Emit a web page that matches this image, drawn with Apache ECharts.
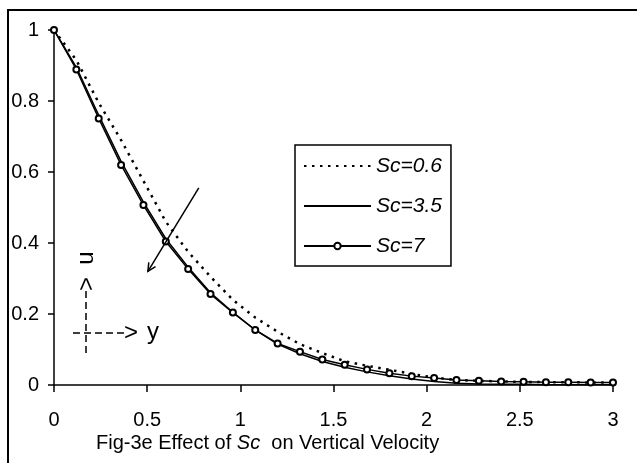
<!DOCTYPE html>
<html>
<head>
<meta charset="utf-8">
<script src="https://cdn.jsdelivr.net/npm/echarts@6/dist/echarts.min.js"></script>
<style>
html,body{margin:0;padding:0;background:#fff;}
#chart{width:637px;height:463px;}
</style>
</head>
<body>
<div id="chart"></div>
<script>
// y positions (x-axis values)
var yPos = [0, 0.12, 0.24, 0.36, 0.48, 0.6, 0.72, 0.84, 0.96, 1.08, 1.2, 1.32, 1.44, 1.56, 1.68, 1.8, 1.92, 2.04, 2.16, 2.28, 2.4, 2.52, 2.64, 2.76, 2.88, 3.0];
var sc06 = [1, 0.915, 0.795, 0.69, 0.575, 0.46, 0.375, 0.305, 0.24, 0.19, 0.15, 0.115, 0.09, 0.067, 0.054, 0.043, 0.031, 0.021, 0.014, 0.012, 0.010, 0.009, 0.008, 0.008, 0.007, 0.007];
var sc35 = [1, 0.895, 0.76, 0.63, 0.515, 0.412, 0.332, 0.26, 0.205, 0.155, 0.115, 0.088, 0.066, 0.05, 0.037, 0.026, 0.017, 0.01, 0.005, 0.003, 0.002, 0.002, 0.001, 0.001, 0.001, 0.001];
var sc7  = [1, 0.889, 0.751, 0.62, 0.507, 0.404, 0.327, 0.256, 0.204, 0.155, 0.117, 0.094, 0.072, 0.057, 0.044, 0.033, 0.025, 0.02, 0.014, 0.012, 0.01, 0.009, 0.008, 0.008, 0.007, 0.007];
var seriesNames = ['Sc=0.6', 'Sc=3.5', 'Sc=7'];
var xTicks = {min: 0, max: 3, interval: 0.5};
var yTicks = {min: 0, max: 1, interval: 0.2};
var caption = 'Fig-3e Effect of ';
var captionIt = 'Sc';
var caption2 = '  on Vertical Velocity';
// annotation arrow (data coordinates)
var arrowFrom = [0.777, 0.555];
var arrowTo = [0.504, 0.32];

function pairs(xs, ys) { return xs.map(function (x, i) { return [x, ys[i]]; }); }

var FONT = "'Liberation Sans', Arial, sans-serif";
var chart = echarts.init(document.getElementById('chart'), null, {renderer: 'canvas'});
var option = {
  animation: false,
  backgroundColor: '#fff',
  grid: {left: 54, right: 24, top: 30, bottom: 78, containLabel: false},
  xAxis: {
    type: 'value', min: xTicks.min, max: xTicks.max, interval: xTicks.interval,
    axisLine: {show: true, onZero: false, lineStyle: {color: '#000', width: 1.5}},
    axisTick: {show: true, inside: false, length: 7, lineStyle: {color: '#000', width: 1.5}},
    axisLabel: {color: '#000', fontSize: 20, fontFamily: FONT, margin: 25},
    splitLine: {show: false}
  },
  yAxis: {
    type: 'value', min: yTicks.min, max: yTicks.max, interval: yTicks.interval,
    axisLine: {show: true, onZero: false, lineStyle: {color: '#000', width: 1.5}},
    axisTick: {show: true, inside: false, length: 6, lineStyle: {color: '#000', width: 1.5}},
    axisLabel: {color: '#000', fontSize: 20, fontFamily: FONT, margin: 15},
    splitLine: {show: false}
  },
  legend: {
    orient: 'vertical', left: 295, top: 145,
    padding: [10, 9, 9, 8],
    borderColor: '#000', borderWidth: 1.5,
    backgroundColor: '#fff',
    itemWidth: 67, itemHeight: 8, itemGap: 18,
    textStyle: {fontSize: 21, fontStyle: 'italic', fontFamily: FONT, color: '#000', lineHeight: 22},
    data: [
      {name: seriesNames[0], itemStyle: {opacity: 0}},
      {name: seriesNames[1], itemStyle: {opacity: 0}},
      {name: seriesNames[2]}
    ]
  },
  series: [
    {name: seriesNames[0], type: 'line', data: pairs(yPos, sc06), symbol: 'none', z: 3,
     lineStyle: {color: '#000', width: 2.5, type: [2.5, 5.5]}, itemStyle: {color: '#000'}},
    {name: seriesNames[1], type: 'line', data: pairs(yPos, sc35), symbol: 'none', z: 4,
     lineStyle: {color: '#000', width: 1.5, type: 'solid'}, itemStyle: {color: '#000'}},
    {name: seriesNames[2], type: 'line', data: pairs(yPos, sc7), symbol: 'emptyCircle', symbolSize: 6, z: 5,
     lineStyle: {color: '#000', width: 1.5}, itemStyle: {color: '#000', borderColor: '#000', borderWidth: 1.5}}
  ]
};
chart.setOption(option);

var p1 = chart.convertToPixel({gridIndex: 0}, arrowFrom);
var p2 = chart.convertToPixel({gridIndex: 0}, arrowTo);
var ang = Math.atan2(p2[1] - p1[1], p2[0] - p1[0]);
var hl = 9, ha = 0.45;
var h1 = [p2[0] - hl * Math.cos(ang - ha), p2[1] - hl * Math.sin(ang - ha)];
var h2 = [p2[0] - hl * Math.cos(ang + ha), p2[1] - hl * Math.sin(ang + ha)];

var cy = 333;

chart.setOption({
  graphic: [
    {type: 'rect', shape: {x: 8, y: 10, width: 700, height: 520}, style: {fill: 'none', stroke: '#000', lineWidth: 2}, silent: true, z: 0},
    {type: 'line', shape: {x1: p1[0], y1: p1[1], x2: p2[0], y2: p2[1]}, style: {stroke: '#000', lineWidth: 1.5}, z: 10},
    {type: 'polyline', shape: {points: [h1, p2, h2]}, style: {stroke: '#000', lineWidth: 1.5, fill: 'none'}, z: 10},
    // horizontal dashed arrow with y
    {type: 'line', shape: {x1: 73, y1: cy, x2: 126, y2: cy}, style: {stroke: '#000', lineWidth: 1.5, lineDash: [7, 4]}, z: 10},
    {type: 'text', x: 131, y: cy, style: {text: '>', font: '24px ' + FONT, fill: '#000', align: 'center', verticalAlign: 'middle', textAlign: 'center', textVerticalAlign: 'middle'}, z: 10},
    {type: 'text', x: 153, y: cy - 1, style: {text: 'y', font: '24px ' + FONT, fill: '#000', align: 'center', verticalAlign: 'middle', textAlign: 'center', textVerticalAlign: 'middle'}, z: 10},
    // vertical dashed arrow with u
    {type: 'line', shape: {x1: 86, y1: 353, x2: 86, y2: 291}, style: {stroke: '#000', lineWidth: 1.5, lineDash: [7, 4]}, z: 10},
    {type: 'text', x: 87, y: 284, rotation: Math.PI / 2, style: {text: '>', font: '24px ' + FONT, fill: '#000', align: 'center', verticalAlign: 'middle', textAlign: 'center', textVerticalAlign: 'middle'}, z: 10},
    {type: 'text', x: 86, y: 258, rotation: Math.PI / 2, style: {text: 'u', font: '24px ' + FONT, fill: '#000', align: 'center', verticalAlign: 'middle', textAlign: 'center', textVerticalAlign: 'middle'}, z: 10},
    // caption
    {type: 'text', x: 96, y: 443, style: {
      text: '{n|' + caption + '}{i|' + captionIt + '}{n|' + caption2 + '}',
      rich: {n: {fontSize: 20, fontFamily: FONT, fill: '#000', color: '#000'}, i: {fontSize: 20, fontFamily: FONT, fontStyle: 'italic', fill: '#000', color: '#000'}},
      align: 'left', verticalAlign: 'middle', textAlign: 'left', textVerticalAlign: 'middle'}, z: 10}
  ]
});
</script>
</body>
</html>
